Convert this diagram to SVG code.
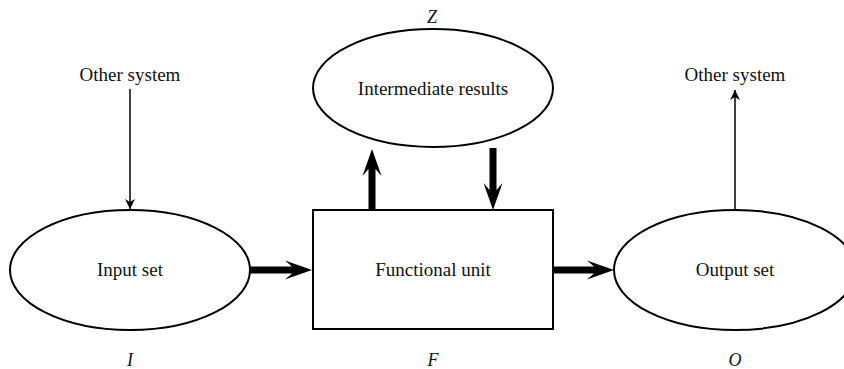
<svg xmlns="http://www.w3.org/2000/svg" width="844" height="369" viewBox="0 0 844 369">
  <style>
    .shape { fill: #ffffff; stroke: #000000; stroke-width: 2; }
    .label { font-family: "Liberation Serif", "DejaVu Serif", serif; font-size: 19px; fill: #111111; text-anchor: middle; }
    .var { font-family: "Liberation Serif", "DejaVu Serif", serif; font-size: 18px; font-style: italic; fill: #111111; text-anchor: middle; }
    .thin { stroke: #000000; stroke-width: 1.5; fill: none; }
    .thick { fill: #000000; stroke: none; }
  </style>
  <defs>
    <marker id="thinHead" viewBox="0 0 10 10" refX="10" refY="5" markerWidth="10" markerHeight="10" markerUnits="userSpaceOnUse" orient="auto">
      <path d="M0,0 L10,5 L0,10 L3,5 Z" fill="#000000"/>
    </marker>
    <!-- bold arrow pointing right, tip at origin -->
    <path id="boldArrow" d="M-62,-3.5 L-20,-3.5 L-27,-9.5 L0,0 L-27,9.5 L-20,3.5 L-62,3.5 Z"/>
  </defs>

  <g id="input-set">
    <ellipse class="shape" cx="130" cy="270" rx="120" ry="60"/>
    <text class="label" x="130" y="276">Input set</text>
    <text class="var" x="130" y="366">I</text>
  </g>

  <g id="functional-unit">
    <rect class="shape" x="313" y="210" width="240" height="119"/>
    <text class="label" x="433" y="276">Functional unit</text>
    <text class="var" x="433" y="366">F</text>
  </g>

  <g id="intermediate-results">
    <ellipse class="shape" cx="433" cy="88" rx="120" ry="59"/>
    <text class="label" x="433" y="95">Intermediate results</text>
    <text class="var" x="432" y="23">Z</text>
  </g>

  <g id="output-set">
    <ellipse class="shape" cx="735" cy="270" rx="121" ry="60"/>
    <text class="label" x="735" y="276">Output set</text>
    <text class="var" x="735" y="366">O</text>
  </g>

  <g id="other-system-in">
    <text class="label" x="130" y="81">Other system</text>
  </g>

  <g id="other-system-out">
    <text class="label" x="735" y="81">Other system</text>
  </g>

  <g id="connectors">
    <line class="thin" x1="130" y1="89" x2="130" y2="209" marker-end="url(#thinHead)"/>
    <line class="thin" x1="735" y1="209" x2="735" y2="90" marker-end="url(#thinHead)"/>
    <use class="thick" href="#boldArrow" transform="translate(312,270)"/>
    <use class="thick" href="#boldArrow" transform="translate(614,270)"/>
    <use class="thick" href="#boldArrow" transform="translate(372,149) rotate(-90)"/>
    <use class="thick" href="#boldArrow" transform="translate(493,210) rotate(90)"/>
  </g>
</svg>
